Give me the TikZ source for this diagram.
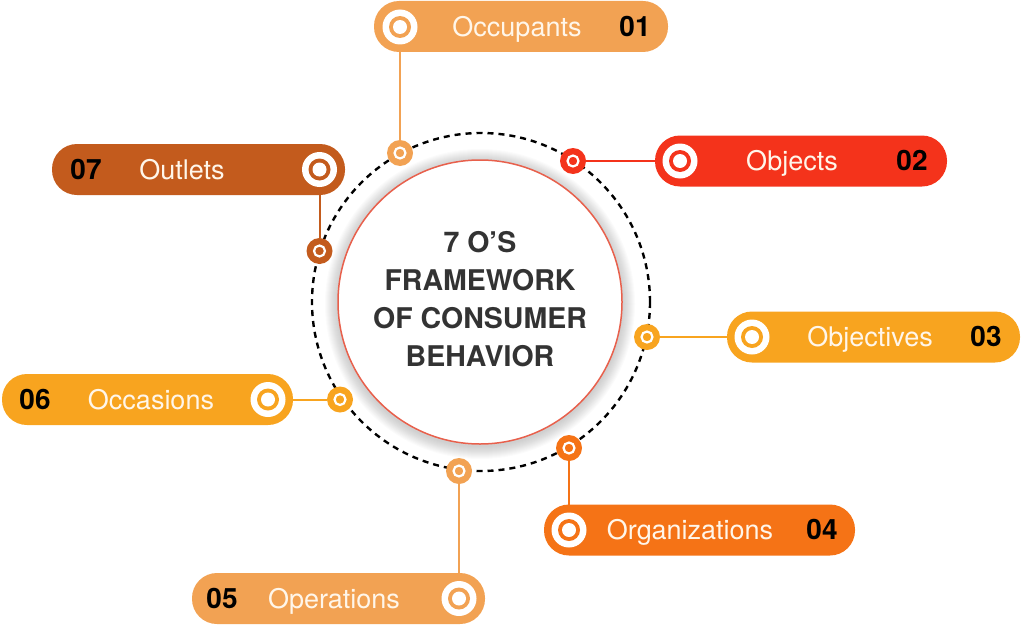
\documentclass[tikz,border=0pt]{standalone}
\usepackage{fontspec}
\setmainfont{TeX Gyre Heros}
\definecolor{cOcc}{HTML}{F2A253}
\definecolor{cObj}{HTML}{F4331B}
\definecolor{cObv}{HTML}{F8A41F}
\definecolor{cOrg}{HTML}{F57316}
\definecolor{cOut}{HTML}{C35B1D}
\definecolor{ctext}{HTML}{333333}
\definecolor{cring}{HTML}{E8604C}
\definecolor{clabel}{HTML}{FFF6EA}
\pgfdeclarelayer{bg}
\pgfsetlayers{bg,main}
\begin{document}
\begin{tikzpicture}[x=1pt,y=-1pt,
  pill/.style={rectangle, rounded corners=25pt, minimum height=51pt, inner sep=0pt, fill=#1},
  icon/.style={circle, fill=white, minimum size=35pt, inner sep=0pt},
  marker/.style={circle, fill=#1, minimum size=26pt, inner sep=0pt},
  lbl/.style={text=clabel, font=\fontsize{27}{32}\selectfont, inner sep=0pt, anchor=base},
  num/.style={text=black, font=\bfseries\fontsize{28}{32}\selectfont, inner sep=0pt, anchor=base},
  conn/.style={draw=#1, line width=2pt},
]
\useasboundingbox (0,0) rectangle (1024,626);

% central circle with soft shadow
\foreach \r in {143,...,155} \fill[black,opacity=0.014] (480,304) circle (\r pt);
\node[circle, fill=white, draw=cring, line width=1.5pt, minimum size=284pt, inner sep=0pt] (core) at (480,302) {};
\draw[dash pattern=on 6pt off 5pt, line width=2.4pt] (481,302) circle (169pt);
\node[align=center, text=ctext, font=\bfseries\fontsize{28.5}{38}\selectfont] (ct) at (480,299.5) {7 O’S\\FRAMEWORK\\OF CONSUMER\\BEHAVIOR};

% pills
\node[pill=cOcc, minimum width=294pt] (p1) at (521,26.5) {};
\node[pill=cObj, minimum width=292pt] (p2) at (801,161) {};
\node[pill=cObv, minimum width=293pt] (p3) at (873.5,337) {};
\node[pill=cOrg, minimum width=311pt] (p4) at (699.5,530) {};
\node[pill=cOcc, minimum width=293pt] (p5) at (338.5,598.5) {};
\node[pill=cObv, minimum width=291pt] (p6) at (147.5,399.5) {};
\node[pill=cOut, minimum width=293pt] (p7) at (198.5,169.5) {};

% icons
\node[icon] (i1) at (400,27) {};
\node[icon] (i2) at (680,161) {};
\node[icon] (i3) at (752,337) {};
\node[icon] (i4) at (569,530) {};
\node[icon] (i5) at (459,598.5) {};
\node[icon] (i6) at (268,399.5) {};
\node[icon] (i7) at (319.5,169.5) {};
\foreach \i/\c in {1/cOcc,2/cObj,3/cObv,4/cOrg,5/cOcc,6/cObv,7/cOut}{
  \fill[\c] (i\i.center) circle (11pt);
  \fill[white] (i\i.center) circle (7pt);
}

% labels
\node[lbl] (t1) at (517,36.5) {Occupants};
\node[num] (n1) at (635,36.5) {01};
\node[lbl] (t2) at (792,170.5) {Objects};
\node[num] (n2) at (912,170.5) {02};
\node[lbl] (t3) at (870,346.5) {Objectives};
\node[num] (n3) at (986,346.5) {03};
\node[lbl] (t4) at (690,539.5) {Organizations};
\node[num] (n4) at (822,539.5) {04};
\node[num] (n5) at (222,608) {05};
\node[lbl] (t5) at (334,608) {Operations};
\node[num] (n6) at (35,409) {06};
\node[lbl] (t6) at (151,409) {Occasions};
\node[num] (n7) at (86,179) {07};
\node[lbl] (t7) at (182,179) {Outlets};

% markers on the ring
\node[marker=cOcc] (m1) at (400,153) {};
\node[marker=cObj] (m2) at (573,161) {};
\node[marker=cObv] (m3) at (647,337) {};
\node[marker=cOrg] (m4) at (569,448) {};
\node[marker=cOcc] (m5) at (459,471) {};
\node[marker=cObv] (m6) at (340,399.5) {};
\node[marker=cOut] (m7) at (319.5,251) {};
\foreach \i in {1,...,7} \draw[white, line width=2.2pt] (m\i.center) circle (5.5pt);

% connectors
\begin{pgfonlayer}{bg}
\draw[conn=cOcc] (m1) -- (i1);
\draw[conn=cObj] (m2) -- (i2);
\draw[conn=cObv] (m3) -- (i3);
\draw[conn=cOrg] (m4) -- (i4);
\draw[conn=cOcc] (m5) -- (i5);
\draw[conn=cObv] (m6) -- (i6);
\draw[conn=cOut] (m7) -- (i7);
\end{pgfonlayer}
\end{tikzpicture}
\end{document}
